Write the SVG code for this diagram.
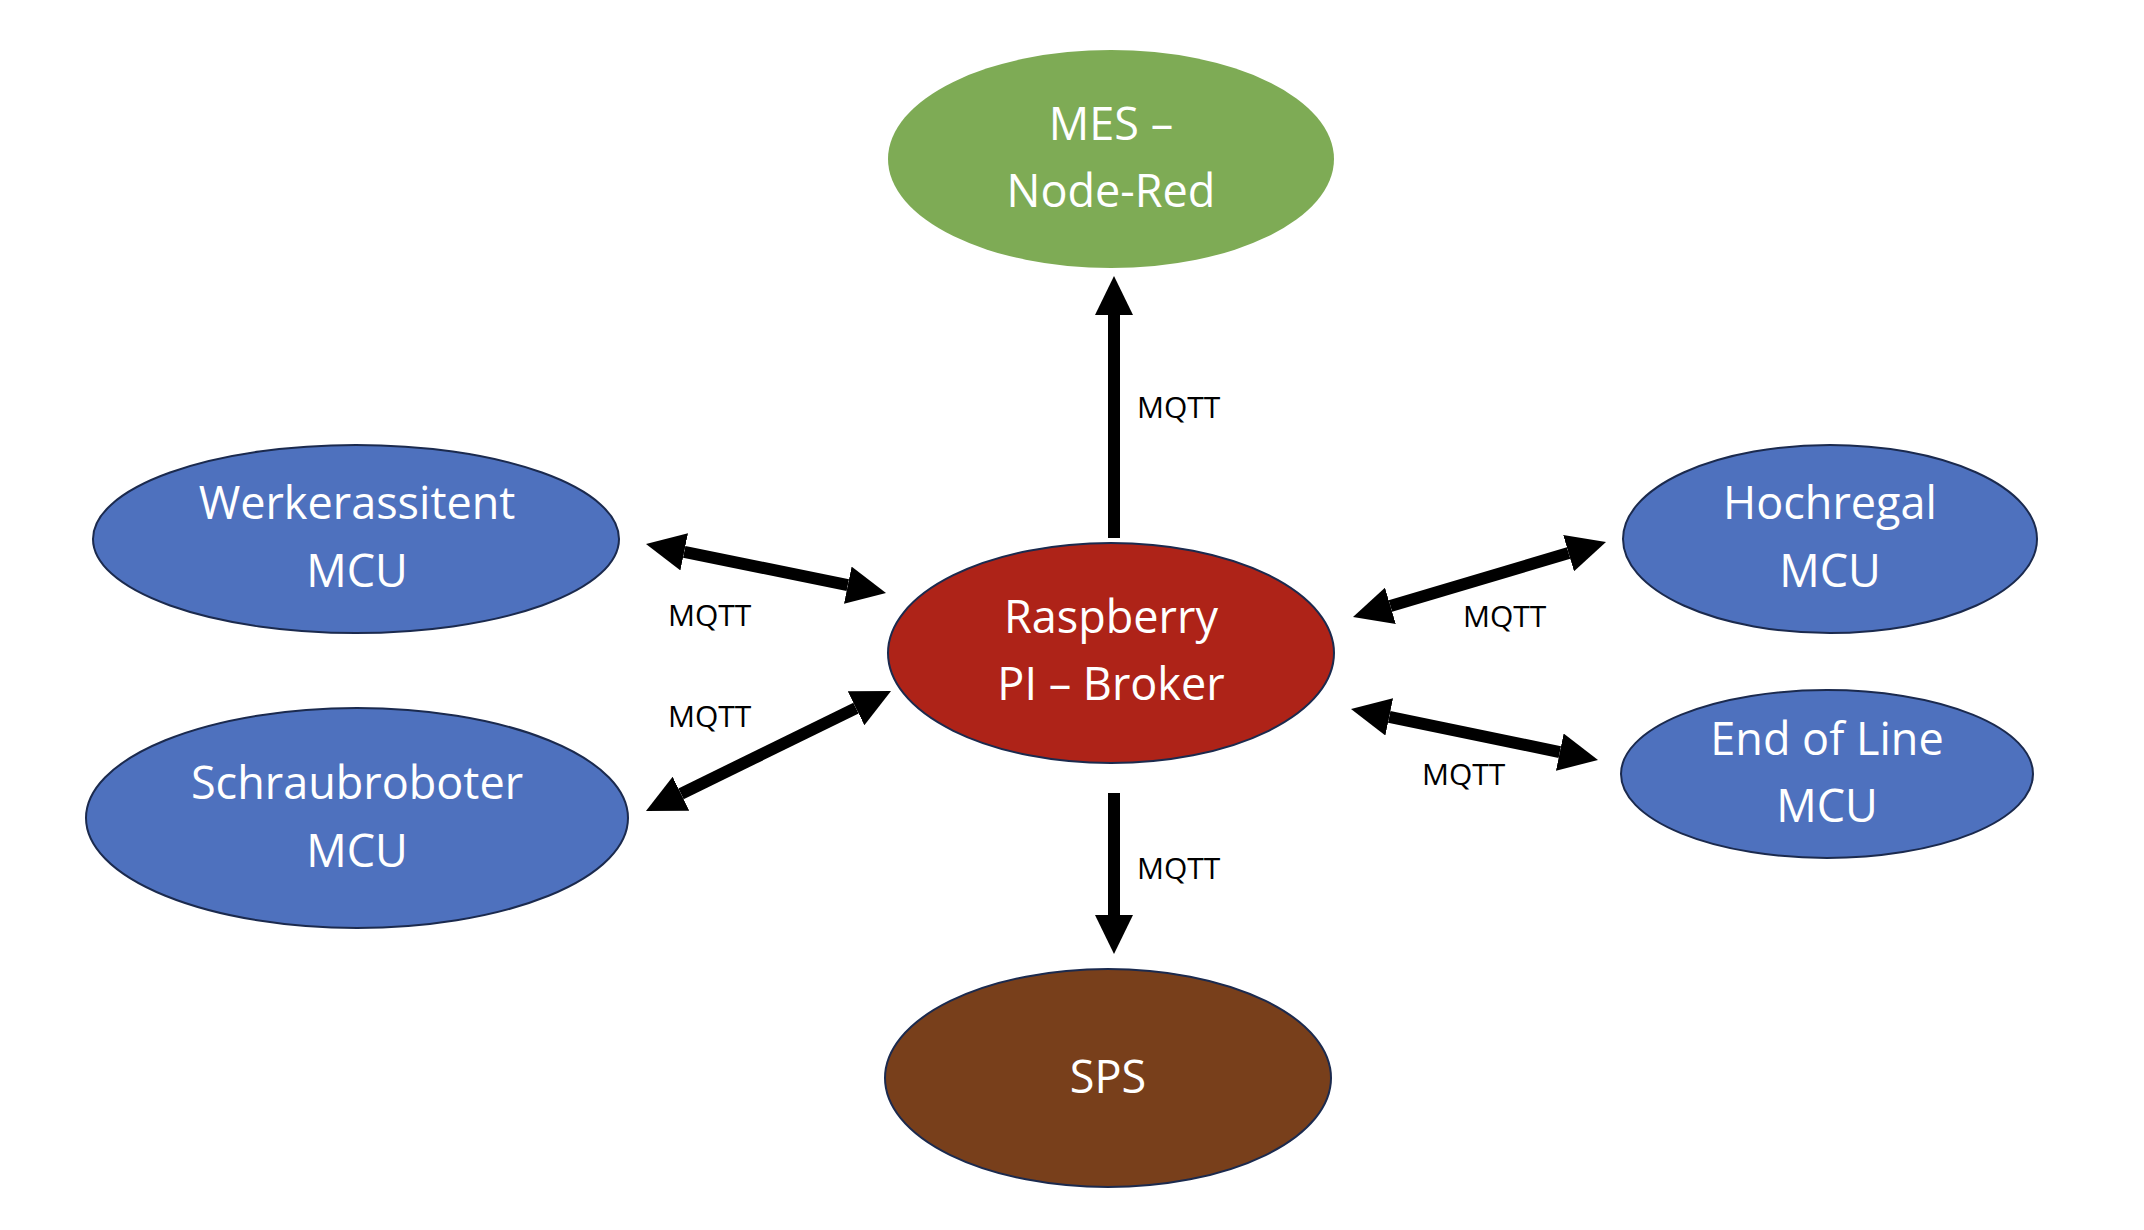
<svg xmlns="http://www.w3.org/2000/svg" width="2144" height="1230" viewBox="0 0 2144 1230">
<style>
  .node-text { font-family: "Open Sans", "Liberation Sans", sans-serif; font-size: 45px; fill: #ffffff; text-anchor: middle; }
  .lbl { font-family: "Open Sans", "Liberation Sans", sans-serif; font-size: 30px; fill: #000000; }
  .conn { stroke: #000000; stroke-width: 12; fill: none; }
  .blue { fill: #4E71BE; stroke: #1B2A4E; stroke-width: 2; }
</style>
<defs>
  <marker id="head" viewBox="0 0 39 38" markerWidth="39" markerHeight="38" markerUnits="userSpaceOnUse" refX="0" refY="19" orient="auto-start-reverse">
    <polygon points="0,0 39,19 0,38" fill="#000000"/>
  </marker>
</defs>
<rect x="0" y="0" width="2144" height="1230" fill="#ffffff"/>

<g id="connectors">
  <line class="conn" x1="1114" y1="538" x2="1114" y2="315" marker-end="url(#head)"/>
  <line class="conn" x1="1114" y1="793" x2="1114" y2="915" marker-end="url(#head)"/>
  <line class="conn" x1="684.2" y1="551.8" x2="847.8" y2="585.2" marker-start="url(#head)" marker-end="url(#head)"/>
  <line class="conn" x1="681.0" y1="793.8" x2="856.0" y2="708.2" marker-start="url(#head)" marker-end="url(#head)"/>
  <line class="conn" x1="1390.4" y1="605.9" x2="1568.6" y2="553.1" marker-start="url(#head)" marker-end="url(#head)"/>
  <line class="conn" x1="1389.2" y1="716.9" x2="1559.8" y2="752.1" marker-start="url(#head)" marker-end="url(#head)"/>
  <text class="lbl" x="1137" y="418">MQTT</text>
  <text class="lbl" x="1137" y="879">MQTT</text>
  <text class="lbl" x="668" y="626">MQTT</text>
  <text class="lbl" x="668" y="727">MQTT</text>
  <text class="lbl" x="1463" y="627">MQTT</text>
  <text class="lbl" x="1422" y="785">MQTT</text>
</g>

<g id="mes">
  <ellipse cx="1111" cy="159" rx="223" ry="109" fill="#7EAB55"/>
  <text class="node-text" x="1111" y="140">MES –</text>
  <text class="node-text" x="1111" y="207">Node-Red</text>
</g>

<g id="broker">
  <ellipse cx="1111" cy="653" rx="223" ry="110" fill="#AE2318" stroke="#1B2A4E" stroke-width="2"/>
  <text class="node-text" x="1111" y="633">Raspberry</text>
  <text class="node-text" x="1111" y="700">PI – Broker</text>
</g>

<g id="sps">
  <ellipse cx="1108" cy="1078" rx="223" ry="109" fill="#783F1B" stroke="#1B2A4E" stroke-width="2"/>
  <text class="node-text" x="1108" y="1093">SPS</text>
</g>

<g id="werkerassitent">
  <ellipse class="blue" cx="356" cy="539" rx="263" ry="94"/>
  <text class="node-text" x="357" y="519">Werkerassitent</text>
  <text class="node-text" x="357" y="587">MCU</text>
</g>

<g id="schraubroboter">
  <ellipse class="blue" cx="357" cy="818" rx="271" ry="110"/>
  <text class="node-text" x="357" y="799">Schraubroboter</text>
  <text class="node-text" x="357" y="867">MCU</text>
</g>

<g id="hochregal">
  <ellipse class="blue" cx="1830" cy="539" rx="207" ry="94"/>
  <text class="node-text" x="1830" y="519">Hochregal</text>
  <text class="node-text" x="1830" y="587">MCU</text>
</g>

<g id="endofline">
  <ellipse class="blue" cx="1827" cy="774" rx="206" ry="84"/>
  <text class="node-text" x="1827" y="755">End of Line</text>
  <text class="node-text" x="1827" y="822">MCU</text>
</g>
</svg>
